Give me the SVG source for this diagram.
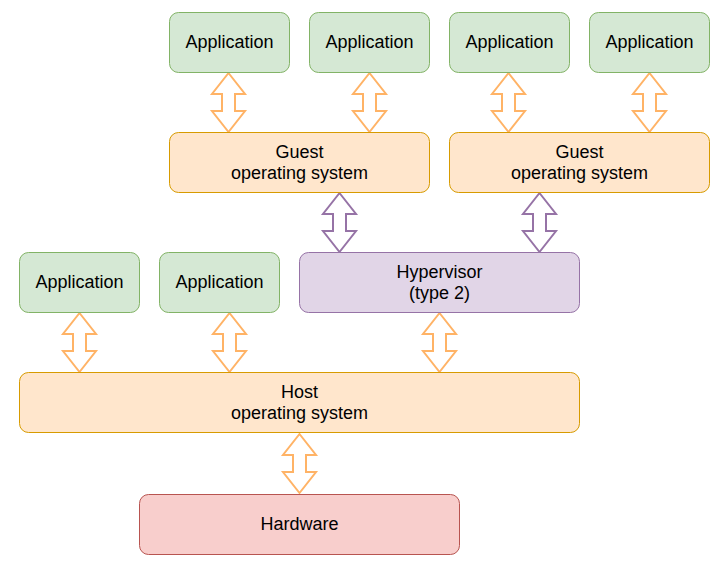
<svg xmlns="http://www.w3.org/2000/svg" width="718" height="561" viewBox="0 0 718 561">
<style>
.app{fill:#d5e8d4;stroke:#82b366;stroke-width:1}
.os{fill:#ffe6cc;stroke:#d79b00;stroke-width:1}
.hyp{fill:#e1d5e7;stroke:#9673a6;stroke-width:1}
.hw{fill:#f8cecc;stroke:#b85450;stroke-width:1}
text{font-family:"Liberation Sans",Arial,sans-serif;font-size:18px;fill:#000;text-anchor:middle}
.ao{fill:#fff;stroke:#ffb366;stroke-width:2;stroke-linejoin:miter}
.ap{fill:#fff;stroke:#9673a6;stroke-width:2;stroke-linejoin:miter}
</style>
<rect width="718" height="561" fill="#fff"/>
<g id="connectors">
<path class="ao" d="M228.5,73 L245,94 L235,94 L235,111 L245,111 L228.5,132 L212,111 L222,111 L222,94 L212,94 Z"/>
<path class="ao" d="M369.5,73 L386,94 L376,94 L376,111 L386,111 L369.5,132 L353,111 L363,111 L363,94 L353,94 Z"/>
<path class="ao" d="M508.5,73 L525,94 L515,94 L515,111 L525,111 L508.5,132 L492,111 L502,111 L502,94 L492,94 Z"/>
<path class="ao" d="M649.5,73 L666,94 L656,94 L656,111 L666,111 L649.5,132 L633,111 L643,111 L643,94 L633,94 Z"/>
<path class="ap" d="M339.5,193 L356,214 L346,214 L346,231 L356,231 L339.5,252 L323,231 L333,231 L333,214 L323,214 Z"/>
<path class="ap" d="M539.5,193 L556,214 L546,214 L546,231 L556,231 L539.5,252 L523,231 L533,231 L533,214 L523,214 Z"/>
<path class="ao" d="M79.5,313 L96,334 L86,334 L86,351 L96,351 L79.5,372 L63,351 L73,351 L73,334 L63,334 Z"/>
<path class="ao" d="M229.5,313 L246,334 L236,334 L236,351 L246,351 L229.5,372 L213,351 L223,351 L223,334 L213,334 Z"/>
<path class="ao" d="M439.5,313 L456,334 L446,334 L446,351 L456,351 L439.5,372 L423,351 L433,351 L433,334 L423,334 Z"/>
<path class="ao" d="M299.5,434 L316,455 L306,455 L306,472 L316,472 L299.5,493 L283,472 L293,472 L293,455 L283,455 Z"/>
</g>
<g id="app1"><rect class="app" x="169.5" y="12.5" width="120" height="60" rx="9"/><text x="229.5" y="47.5">Application</text></g>
<g id="app2"><rect class="app" x="309.5" y="12.5" width="120" height="60" rx="9"/><text x="369.5" y="47.5">Application</text></g>
<g id="app3"><rect class="app" x="449.5" y="12.5" width="120" height="60" rx="9"/><text x="509.5" y="47.5">Application</text></g>
<g id="app4"><rect class="app" x="589.5" y="12.5" width="120" height="60" rx="9"/><text x="649.5" y="47.5">Application</text></g>
<g id="guest1"><rect class="os" x="169.5" y="132.5" width="260" height="60" rx="9"/><text x="299.5" y="158">Guest</text><text x="299.5" y="178.5">operating system</text></g>
<g id="guest2"><rect class="os" x="449.5" y="132.5" width="260" height="60" rx="9"/><text x="579.5" y="158">Guest</text><text x="579.5" y="178.5">operating system</text></g>
<g id="app5"><rect class="app" x="19.5" y="252.5" width="120" height="60" rx="9"/><text x="79.5" y="287.5">Application</text></g>
<g id="app6"><rect class="app" x="159.5" y="252.5" width="120" height="60" rx="9"/><text x="219.5" y="287.5">Application</text></g>
<g id="hypervisor"><rect class="hyp" x="299.5" y="252.5" width="280" height="60" rx="9"/><text x="439.5" y="278">Hypervisor</text><text x="439.5" y="298.5">(type 2)</text></g>
<g id="host"><rect class="os" x="19.5" y="372.5" width="560" height="60" rx="9"/><text x="299.5" y="398">Host</text><text x="299.5" y="418.5">operating system</text></g>
<g id="hardware"><rect class="hw" x="139.5" y="494.5" width="320" height="60" rx="9"/><text x="299.5" y="529.5">Hardware</text></g>
</svg>
